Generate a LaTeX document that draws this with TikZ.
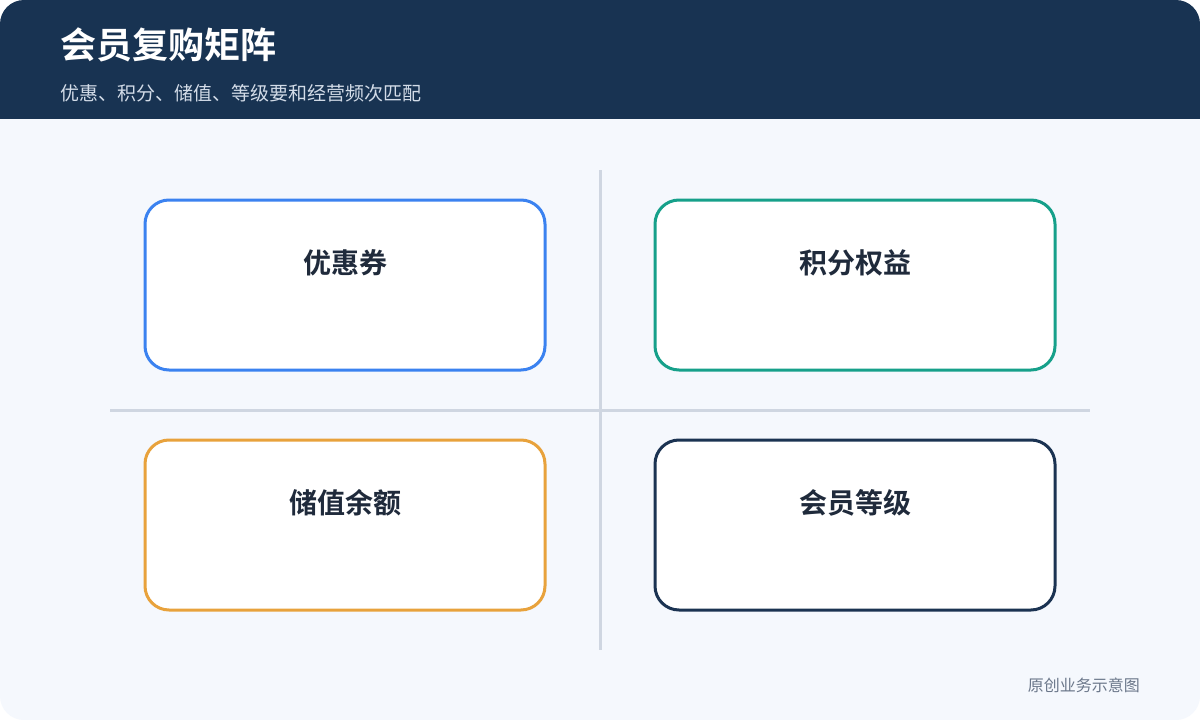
\documentclass[tikz,border=0pt]{standalone}
\usepackage{fontspec}
\usetikzlibrary{positioning}
\newfontfamily\cjk{Noto Sans CJK SC}[BoldFont={Noto Sans CJK SC Bold}]
\definecolor{headbg}{HTML}{183352}
\definecolor{pagebg}{HTML}{F5F8FD}
\definecolor{subtxt}{HTML}{D3DCE8}
\definecolor{darktxt}{HTML}{1F2A3B}
\definecolor{foottxt}{HTML}{6B778A}
\definecolor{axisgray}{HTML}{CFD6E1}
\definecolor{qblue}{HTML}{3B82F0}
\definecolor{qteal}{HTML}{16A08A}
\definecolor{qorange}{HTML}{E8A23C}
\definecolor{qnavy}{HTML}{1B3352}
\tikzset{
    quad/.style = {rectangle, rounded corners=24pt, line width=3pt, fill=white, minimum width=400pt, minimum height=170pt, inner sep=0pt},
    quadlabel/.style = {font=\cjk\bfseries\fontsize{28}{32}\selectfont, text=darktxt, inner sep=0pt},
    axis/.style = {line width=3pt, draw=axisgray},
    every picture/.style={font issue=\cjk},
    font issue/.style={execute at begin picture={#1\selectfont}
  }
}

\begin{document}
\begin{tikzpicture}[x=1pt,y=-1pt]
  \useasboundingbox (0,0) rectangle (1200,720);
  \fill[white] (0,0) rectangle (1200,720);
  \fill[pagebg, rounded corners=24pt] (0,0) rectangle (1200,720);
  % header
  \begin{scope}
    \clip (0,0) rectangle (1200,118);
    \fill[headbg, rounded corners=24pt] (0,0) rectangle (1200,160);
  \end{scope}
  \node[anchor=west, text=white, font=\cjk\bfseries\fontsize{36}{40}\selectfont, inner sep=0pt] (title) at (60,45) {会员复购矩阵};
  \node[anchor=west, text=subtxt, font=\cjk\fontsize{19}{23}\selectfont, inner sep=0pt] (subtitle) at (60,93) {优惠、积分、储值、等级要和经营频次匹配};

  % axes
  \coordinate (vtop) at (600,170);
  \coordinate (vbot) at (600,650);
  \coordinate (hleft) at (110,410);
  \coordinate (hright) at (1090,410);
  \draw[axis] (vtop) -- (vbot);
  \draw[axis] (hleft) -- (hright);

  % quadrants
  \node[quad, draw=qblue] (coupon) at (345,285) {};
  \node[quad, draw=qteal] (points) at (855,285) {};
  \node[quad, draw=qorange] (stored) at (345,525) {};
  \node[quad, draw=qnavy] (level) at (855,525) {};

  \node[quadlabel] (couponl) at ([yshift=-64pt]coupon.north) {优惠券};
  \node[quadlabel] (pointsl) at ([yshift=-64pt]points.north) {积分权益};
  \node[quadlabel] (storedl) at ([yshift=-64pt]stored.north) {储值余额};
  \node[quadlabel] (levell) at ([yshift=-64pt]level.north) {会员等级};

  \node[anchor=east, text=foottxt, font=\cjk\fontsize{16}{19}\selectfont, inner sep=0pt] (footer) at (1140,685) {原创业务示意图};
\end{tikzpicture}
\end{document}
